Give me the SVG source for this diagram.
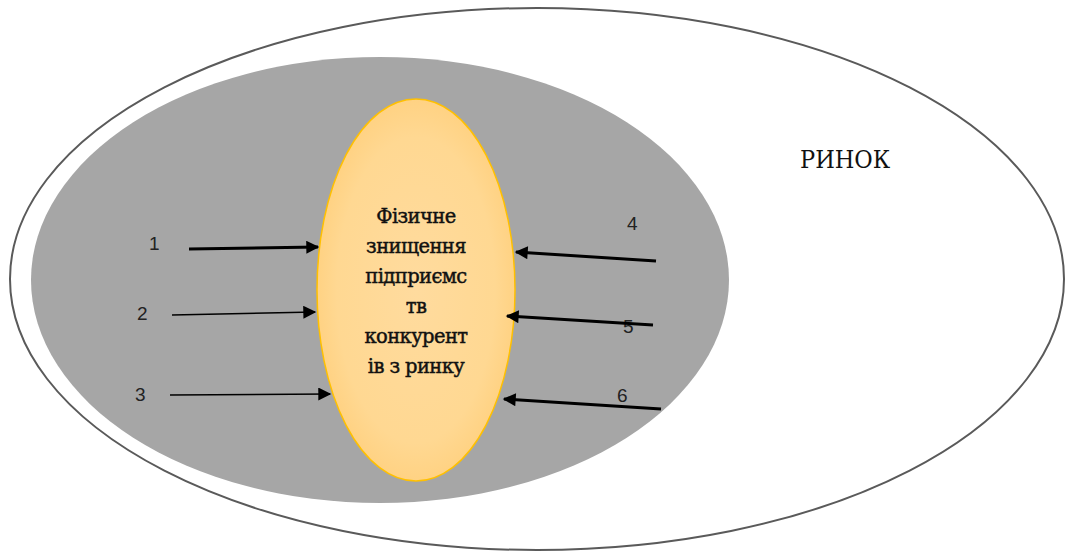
<svg xmlns="http://www.w3.org/2000/svg" width="1067" height="556" viewBox="0 0 1067 556">
<style>
.num{font-family:"Liberation Sans",Carlito,sans-serif;font-size:19px;fill:#222}
.lbl{font-family:"DejaVu Serif","Liberation Serif",serif;font-size:19.5px;fill:#111;text-anchor:middle;letter-spacing:-0.6px;stroke:#111;stroke-width:0.45}
.mk{font-family:"DejaVu Serif Condensed","DejaVu Serif","Liberation Serif",serif;font-size:25px;fill:#111}
.ar{stroke:#000;fill:none}
</style>
<defs>
<radialGradient id="og" cx="0.5" cy="0.5" r="0.5">
<stop offset="0" stop-color="#ffdb9e"/>
<stop offset="0.8" stop-color="#ffd892"/>
<stop offset="1" stop-color="#ffd283"/>
</radialGradient>
<marker id="ah" viewBox="0 0 10 10" refX="9" refY="5" markerWidth="15" markerHeight="13" markerUnits="userSpaceOnUse" orient="auto">
<path d="M0,0 L10,5 L0,10 z" fill="#000"/>
</marker>
</defs>
<rect width="1067" height="556" fill="#fff"/>
<g id="market">
<ellipse cx="537" cy="279" rx="527" ry="271" fill="#fff" stroke="#5a5a5a" stroke-width="2"/>
<text class="mk" x="800" y="168">РИНОК</text>
</g>
<g id="competition">
<ellipse cx="380" cy="280" rx="349" ry="223" fill="#a6a6a6"/>
</g>
<g id="center">
<ellipse cx="416" cy="290" rx="99" ry="191" fill="url(#og)" stroke="#ffc000" stroke-width="1.5"/>
<text class="lbl" x="416" y="223">Фізичне</text>
<text class="lbl" x="416" y="253">знищення</text>
<text class="lbl" x="416" y="283">підприємс</text>
<text class="lbl" x="416" y="313">тв</text>
<text class="lbl" x="416" y="343">конкурент</text>
<text class="lbl" x="416" y="373">ів з ринку</text>
</g>
<g id="labels">
<text class="num" x="149" y="250">1</text>
<text class="num" x="137" y="320">2</text>
<text class="num" x="135" y="401">3</text>
<text class="num" x="627" y="230">4</text>
<text class="num" x="623" y="333">5</text>
<text class="num" x="617" y="402">6</text>
</g>
<g id="connectors">
<line class="ar" x1="189" y1="249" x2="318" y2="247" stroke-width="3" marker-end="url(#ah)"/>
<line class="ar" x1="172" y1="315" x2="315" y2="312" stroke-width="1.5" marker-end="url(#ah)"/>
<line class="ar" x1="170" y1="395" x2="330" y2="394" stroke-width="1.5" marker-end="url(#ah)"/>
<line class="ar" x1="656" y1="261" x2="516" y2="252" stroke-width="3" marker-end="url(#ah)"/>
<line class="ar" x1="653" y1="325" x2="507" y2="316" stroke-width="3" marker-end="url(#ah)"/>
<line class="ar" x1="661" y1="409" x2="504" y2="399" stroke-width="3" marker-end="url(#ah)"/>
</g>
</svg>
